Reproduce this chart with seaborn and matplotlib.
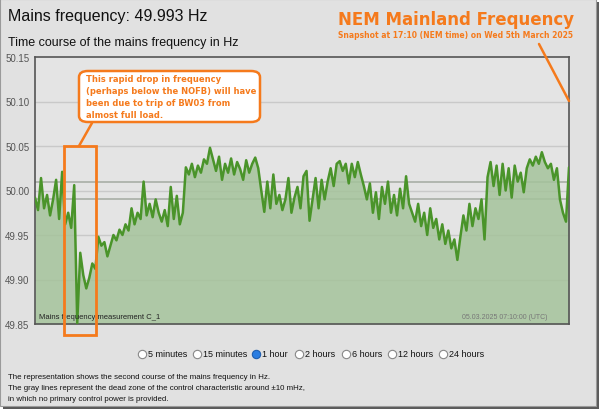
import pandas as pd
import matplotlib.pyplot as plt
import seaborn as sns
from matplotlib.patches import Rectangle, FancyBboxPatch
from matplotlib.lines import Line2D

# Mains frequency (Hz), one reading every 20 s, 06:10 -> 07:10 UTC
freq = [
    49.992, 49.978, 50.014, 49.980, 49.995, 49.972, 49.990, 50.012, 49.968, 50.021,
    49.962, 49.975, 49.958, 50.006, 49.851, 49.930, 49.905, 49.890, 49.902, 49.918,
    49.912, 49.948, 49.938, 49.942, 49.926, 49.938, 49.950, 49.944, 49.956, 49.950,
    49.962, 49.955, 49.980, 49.962, 49.975, 49.968, 50.010, 49.972, 49.985, 49.970,
    49.990, 49.975, 49.965, 49.978, 49.960, 50.004, 49.968, 49.994, 49.962, 49.975,
    50.026, 50.018, 50.030, 50.015, 50.028, 50.020, 50.035, 50.030, 50.048, 50.035,
    50.022, 50.038, 50.012, 50.030, 50.020, 50.036, 50.018, 50.032, 50.024, 50.012,
    50.034, 50.020, 50.030, 50.037, 50.025, 50.000, 49.976, 50.010, 49.980, 50.018,
    49.985, 49.995, 49.978, 49.990, 50.014, 49.975, 49.992, 50.004, 49.980, 50.016,
    50.022, 49.966, 49.990, 50.014, 49.980, 50.012, 49.990, 50.010, 50.025, 50.005,
    50.030, 50.033, 50.022, 50.030, 50.008, 50.030, 50.015, 50.032, 50.018, 50.005,
    49.990, 50.008, 49.975, 49.998, 49.968, 50.004, 49.985, 50.010, 49.975, 49.995,
    49.972, 50.002, 49.980, 50.016, 49.985, 49.975, 49.965, 49.985, 49.960, 49.975,
    49.950, 49.980, 49.958, 49.968, 49.945, 49.962, 49.940, 49.955, 49.935, 49.945,
    49.922, 49.948, 49.972, 49.955, 49.985, 49.960, 49.980, 49.968, 49.990, 49.945,
    50.015, 50.032, 50.005, 50.028, 49.995, 50.030, 50.000, 50.025, 49.992, 50.028,
    50.010, 50.020, 49.998, 50.025, 50.035, 50.028, 50.038, 50.030, 50.043, 50.032,
    50.025, 50.030, 50.012, 50.025, 49.990, 49.975, 49.965, 50.026,
]
ytick_vals = [49.85, 49.90, 49.95, 50.00, 50.05, 50.10, 50.15]
dead_band = [49.99, 50.01]
periods = ["5 minutes", "15 minutes", "1 hour", "2 hours", "6 hours", "12 hours", "24 hours"]
selected_period = "1 hour"

df = pd.DataFrame({
    "time": pd.date_range("2025-03-05 06:10:00", periods=len(freq), freq="20s"),
    "freq": freq,
})

sns.set_theme(style="white")
plt.rcParams["font.family"] = ["Liberation Sans", "DejaVu Sans"]

W, H = 604, 414
fig = plt.figure(figsize=(W / 100, H / 100), dpi=100, facecolor="white")


def fx(x):
    return x / W


def fy(y):
    return 1 - y / H


# page background with screenshot shadow
fig.add_artist(Rectangle((fx(3), fy(410)), fx(596), 407 / H, transform=fig.transFigure,
                         facecolor="#5a5a5a", edgecolor="none", zorder=-3))
fig.add_artist(Rectangle((0, fy(407)), fx(596), 407 / H, transform=fig.transFigure,
                         facecolor="#e1e1e1", edgecolor="#9a9a9a", lw=0.8, zorder=-2))

ax = fig.add_axes([fx(35), fy(325), fx(569) - fx(35), (325 - 58) / H])
ax.set_facecolor("#e4e4e4")

for v in ytick_vals[1:-1]:
    ax.axhline(v, color="#c9c9c9", lw=1.0, zorder=1)
for v in dead_band:
    ax.axhline(v, color="#a9aea6", lw=1.2, zorder=1)

ax.fill_between(df["time"], 49.85, df["freq"], color="#a5c39b", alpha=0.85, lw=0, zorder=2)
sns.lineplot(data=df, x="time", y="freq", ax=ax, color="#4a942a", lw=1.8, zorder=3)

ax.set_xlim(df["time"].iloc[0], df["time"].iloc[-1])
ax.set_ylim(49.85, 50.15)
ax.set_yticks(ytick_vals)
ax.set_yticklabels([f"{v:.2f}" for v in ytick_vals], color="#555555", fontsize=7)
ax.tick_params(axis="y", length=0, pad=4)
ax.set_xticks([])
ax.set_xlabel("")
ax.set_ylabel("")
for s in ax.spines.values():
    s.set_color("#555555")
    s.set_linewidth(1.2)

ax.text(0.007, 0.015, "Mains frequency measurement C_1", transform=ax.transAxes,
        fontsize=5.5, color="#222222", ha="left", va="bottom")
ax.text(0.96, 0.015, "05.03.2025 07:10:00 (UTC)", transform=ax.transAxes,
        fontsize=5, color="#777777", ha="right", va="bottom")

# headers
fig.text(fx(8), fy(16), "Mains frequency: 49.993 Hz", fontsize=11.5, color="#111111",
         ha="left", va="center")
fig.text(fx(8), fy(43), "Time course of the mains frequency in Hz", fontsize=9,
         color="#111111", ha="left", va="center")

orange = "#f57a1c"
fig.text(fx(456), fy(20), "NEM Mainland Frequency", fontsize=12, fontweight="bold",
         color=orange, ha="center", va="center", family="DejaVu Sans")
fig.text(fx(456), fy(36), "Snapshot at 17:10 (NEM time) on Wed 5th March 2025",
         fontsize=5.5, fontweight="bold", color=orange, ha="center", va="center",
         family="DejaVu Sans")
fig.add_artist(Line2D([fx(539), fx(569)], [fy(45), fy(102)], transform=fig.transFigure,
                      color=orange, lw=1.8))

# callout
fig.add_artist(FancyBboxPatch((fx(79), fy(123)), fx(260) - fx(79), (123 - 72) / H,
                              boxstyle="round,pad=0,rounding_size=0.015",
                              transform=fig.transFigure, facecolor="white",
                              edgecolor=orange, lw=1.8, zorder=5))
callout = ["This rapid drop in frequency", "(perhaps below the NOFB) will have",
           "been due to trip of BW03 from", "almost full load."]
for k, line in enumerate(callout):
    fig.text(fx(86), fy(80 + 11.8 * k), line, fontsize=6.0, fontweight="bold",
             color=orange, ha="left", va="center", family="DejaVu Sans", zorder=6)
fig.add_artist(Line2D([fx(92), fx(79)], [fy(124), fy(147)], transform=fig.transFigure,
                      color=orange, lw=1.8))
fig.add_artist(Rectangle((fx(64), fy(336)), fx(96) - fx(64), (336 - 147) / H,
                         transform=fig.transFigure, facecolor="none",
                         edgecolor=orange, lw=2, zorder=6))

# period selector
circle_x = [142, 197, 256, 299, 346, 392, 443]
for cx, label in zip(circle_x, periods):
    sel = label == selected_period
    fig.add_artist(Line2D([fx(cx)], [fy(355)], transform=fig.transFigure, marker="o",
                          markersize=6, markerfacecolor="#2a7de1" if sel else "white",
                          markeredgecolor="#1f5fb0" if sel else "#888888",
                          markeredgewidth=0.8))
    fig.text(fx(cx + 6), fy(355), label, fontsize=6.5, color="#111111", ha="left",
             va="center")

footer = ["The representation shows the second course of the mains frequency in Hz.",
          "The gray lines represent the dead zone of the control characteristic around \u00b110 mHz,",
          "in which no primary control power is provided."]
for k, line in enumerate(footer):
    fig.text(fx(8), fy(378 + 11 * k), line, fontsize=5.7, color="#111111", ha="left",
             va="center")

fig.savefig("out.png", dpi=100, facecolor="white")
